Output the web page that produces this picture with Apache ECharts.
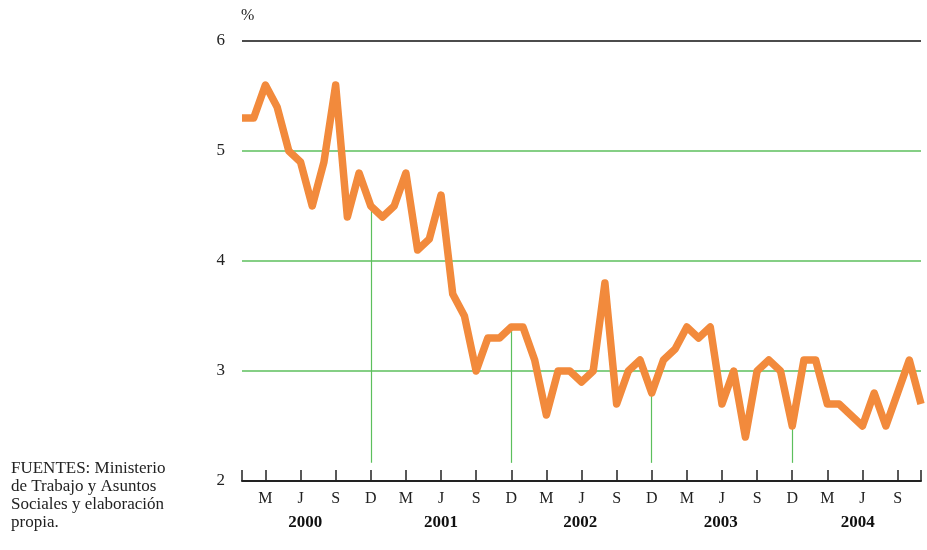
<!DOCTYPE html>
<html>
<head>
<meta charset="utf-8">
<script src="https://cdn.jsdelivr.net/npm/echarts@6/dist/echarts.min.js"></script>
<style>html,body{margin:0;padding:0;background:#fff}#c{width:927px;height:550px}</style>
</head>
<body>
<div id="c"></div>
<script>
// Monthly values, Jan 2000 .. Nov 2004 (%)
var values = [
  5.3, 5.3, 5.6, 5.4, 5.0, 4.9, 4.5, 4.9, 5.6, 4.4, 4.8, 4.5,
  4.4, 4.5, 4.8, 4.1, 4.2, 4.6, 3.7, 3.5, 3.0, 3.3, 3.3, 3.4,
  3.4, 3.1, 2.6, 3.0, 3.0, 2.9, 3.0, 3.8, 2.7, 3.0, 3.1, 2.8,
  3.1, 3.2, 3.4, 3.3, 3.4, 2.7, 3.0, 2.4, 3.0, 3.1, 3.0, 2.5,
  3.1, 3.1, 2.7, 2.7, 2.6, 2.5, 2.8, 2.5, 2.8, 3.1, 2.7
];
var monthLetters = {2: 'M', 5: 'J', 8: 'S', 11: 'D'};
var tickMonths = [0, 2, 5, 8, 11, 14, 17, 20, 23, 26, 29, 32, 35, 38, 41, 44, 47, 50, 53, 56, 58];
var labelMonths = [2, 5, 8, 11, 14, 17, 20, 23, 26, 29, 32, 35, 38, 41, 44, 47, 50, 53, 56];
var years = ['2000', '2001', '2002', '2003', '2004'];
var yearPositions = [5.4, 17, 28.9, 40.9, 52.6];
var decemberMonths = [11, 23, 35, 47];
var sourceText = 'FUENTES: Ministerio\nde Trabajo y Asuntos\nSociales y elaboración\npropia.';

var seriesData = values.map(function (v, i) { return [i, v]; });
var green = '#5cbf5c';
var decLines = decemberMonths.map(function (m) {
  return [{coord: [m, values[m]], lineStyle: {color: green, width: 1.2}}, {coord: [m, 2.165]}];
});
var yearMap = {};
yearPositions.forEach(function (p, i) { yearMap[p] = years[i]; });

var serif = '"Liberation Serif", "DejaVu Serif", serif';
var chart = echarts.init(document.getElementById('c'));
chart.setOption({
  animation: false,
  grid: {left: 242, right: 6, top: 41, bottom: 69},
  xAxis: [{
    type: 'value', min: 0, max: 58,
    axisLine: {show: true, onZero: false, lineStyle: {color: '#222', width: 2}},
    axisTick: {show: true, inside: true, length: 11, customValues: tickMonths,
      lineStyle: {color: '#222', width: 1.5}},
    axisLabel: {customValues: labelMonths, margin: 10, color: '#222',
      fontFamily: serif, fontSize: 16,
      formatter: function (v) { return monthLetters[((v % 12) + 12) % 12] || ''; }},
    splitLine: {show: false}
  }, {
    type: 'value', min: 0, max: 58, position: 'bottom', offset: 0,
    axisLine: {show: false}, axisTick: {show: false},
    axisLabel: {customValues: yearPositions, margin: 33, color: '#111',
      fontFamily: serif, fontSize: 17, fontWeight: 'bold',
      formatter: function (v) { return yearMap[v] || ''; }},
    splitLine: {show: false}
  }],
  yAxis: {
    type: 'value', min: 2, max: 6, interval: 1,
    axisLine: {show: false}, axisTick: {show: false},
    axisLabel: {margin: 17, color: '#222', fontFamily: serif, fontSize: 17},
    splitLine: {show: true, lineStyle: {color: ['#222', green, green, green, '#111'], width: 1.5}}
  },
  series: [{
    type: 'line', data: seriesData, symbol: 'none',
    lineStyle: {color: '#f28a3c', width: 7.5, join: 'round', cap: 'butt'},
    z: 3,
    markLine: {
      silent: true, symbol: 'none', label: {show: false},
      lineStyle: {color: green, width: 1.2, type: 'solid', opacity: 1},
      emphasis: {disabled: true},
      data: decLines, z: 1
    }
  }],
  graphic: [{
    type: 'text', left: 241, top: 8,
    style: {text: '%', font: '16px ' + serif, fill: '#222'}
  }, {
    type: 'text', left: 11, top: 460,
    style: {text: sourceText, font: '17px ' + serif, lineHeight: 18, fill: '#222'}
  }]
});
</script>
</body>
</html>
